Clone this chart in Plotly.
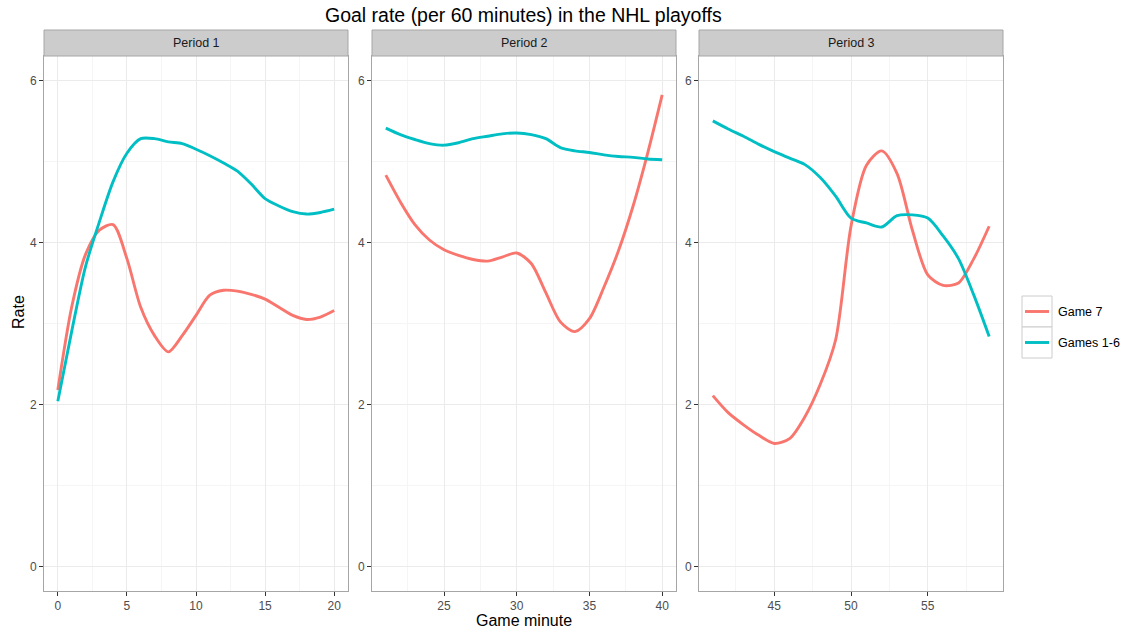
import plotly.graph_objects as go

# ---------------- data ----------------
periods = ["Period 1", "Period 2", "Period 3"]
series_names = ["Game 7", "Games 1-6"]

minutes_p1 = [0, 1, 2, 3, 4, 5, 6, 7, 8, 9, 10, 11, 12, 13, 14, 15, 16, 17, 18, 19, 20]
game7_p1 = [2.18, 3.20, 3.85, 4.15, 4.22, 3.80, 3.20, 2.85, 2.65, 2.85, 3.10, 3.35, 3.41, 3.40, 3.36, 3.30, 3.20, 3.10, 3.05, 3.08, 3.16]
games16_p1 = [2.04, 2.90, 3.70, 4.25, 4.75, 5.10, 5.28, 5.28, 5.24, 5.22, 5.15, 5.07, 4.98, 4.88, 4.72, 4.54, 4.45, 4.38, 4.35, 4.37, 4.41]

minutes_p2 = [21, 22, 23, 24, 25, 26, 27, 28, 29, 30, 31, 32, 33, 34, 35, 36, 37, 38, 39, 40]
game7_p2 = [4.83, 4.50, 4.22, 4.03, 3.91, 3.84, 3.79, 3.77, 3.82, 3.87, 3.74, 3.38, 3.02, 2.90, 3.06, 3.45, 3.90, 4.45, 5.10, 5.82]
games16_p2 = [5.41, 5.33, 5.27, 5.22, 5.20, 5.23, 5.28, 5.31, 5.34, 5.35, 5.33, 5.28, 5.17, 5.13, 5.11, 5.08, 5.06, 5.05, 5.03, 5.02]

minutes_p3 = [41, 42, 43, 44, 45, 46, 47, 48, 49, 50, 51, 52, 53, 54, 55, 56, 57, 58, 59]
game7_p3 = [2.11, 1.90, 1.75, 1.62, 1.52, 1.58, 1.85, 2.25, 2.80, 4.20, 4.95, 5.13, 4.85, 4.15, 3.60, 3.47, 3.50, 3.80, 4.20]
games16_p3 = [5.50, 5.40, 5.31, 5.21, 5.12, 5.04, 4.96, 4.80, 4.57, 4.30, 4.24, 4.19, 4.33, 4.34, 4.30, 4.08, 3.80, 3.35, 2.84]

y_ticks = [0, 2, 4, 6]
x_ticks_p1 = [0, 5, 10, 15, 20]
x_ticks_p2 = [25, 30, 35, 40]
x_ticks_p3 = [45, 50, 55]

colors = {"Game 7": "#F8766D", "Games 1-6": "#00BFC4"}

# ---------------- figure ----------------
W, H = 1140, 632
ML, MT = 44, 56
MB = H - 591
MR = W - 1003
pw = W - ML - MR
ph = H - MT - MB

def fx(px):
    # page pixel -> paper fraction
    return (px - ML) / pw

def fy(py):
    return (H - MB - py) / ph

domains = [[fx(44), fx(348)], [fx(372), fx(676)], [fx(699), fx(1003)]]
xranges = [[-1, 21], [20.05, 40.95], [40.1, 59.9]]
xticks = [x_ticks_p1, x_ticks_p2, x_ticks_p3]
minor_tick0 = [2.5, 22.5, 42.5]

data_sets = [
    (minutes_p1, game7_p1, games16_p1),
    (minutes_p2, game7_p2, games16_p2),
    (minutes_p3, game7_p3, games16_p3),
]

fig = go.Figure()
FONT = "Liberation Sans, Arial, Helvetica, sans-serif"
LW = 2.9
for i, (mins, g7, g16) in enumerate(data_sets):
    xa = "x" if i == 0 else f"x{i+1}"
    ya = "y" if i == 0 else f"y{i+1}"
    for name, vals in ((series_names[0], g7), (series_names[1], g16)):
        fig.add_trace(go.Scatter(
            x=mins, y=vals, mode="lines", name=name,
            line=dict(color=colors[name], width=LW, shape="spline", smoothing=0.8),
            xaxis=xa, yaxis=ya, showlegend=False, legendgroup=name,
        ))

axis_common = dict(
    showgrid=True, gridcolor="#EBEBEB", gridwidth=1,
    zeroline=False, showline=True, linecolor="#A6A6A6", linewidth=1, mirror=True,
    ticks="outside", ticklen=4, tickcolor="#333333", tickwidth=1,
    tickfont=dict(family=FONT, size=12, color="#4D4D4D"),
)

layout = dict(
    width=W, height=H,
    margin=dict(l=ML, r=MR, t=MT, b=MB),
    paper_bgcolor="white", plot_bgcolor="white",
    showlegend=False,
    font=dict(family=FONT),
)
for i in range(3):
    xk = "xaxis" if i == 0 else f"xaxis{i+1}"
    yk = "yaxis" if i == 0 else f"yaxis{i+1}"
    layout[xk] = dict(axis_common, domain=domains[i], range=xranges[i],
                      tickmode="array", tickvals=xticks[i],
                      minor=dict(showgrid=True, gridcolor="#F5F5F5", tick0=minor_tick0[i], dtick=5, ticks=""),
                      anchor="y" if i == 0 else f"y{i+1}")
    layout[yk] = dict(axis_common, domain=[0, 1], range=[-0.3, 6.3],
                      tickmode="array", tickvals=y_ticks,
                      minor=dict(showgrid=True, gridcolor="#F5F5F5", tick0=1, dtick=2, ticks=""),
                      anchor="x" if i == 0 else f"x{i+1}")
fig.update_layout(**layout)

shapes = []
annotations = []
# strips
for i, p in enumerate(periods):
    x0, x1 = domains[i]
    shapes.append(dict(type="rect", xref="paper", yref="paper", x0=x0, x1=x1,
                       y0=fy(56), y1=fy(30), fillcolor="#CCCCCC",
                       line=dict(color="#A6A6A6", width=1), layer="above"))
    annotations.append(dict(text=p, xref="paper", yref="paper", x=(x0 + x1) / 2, y=fy(43),
                            showarrow=False, xanchor="center", yanchor="middle",
                            font=dict(family=FONT, size=12.5, color="#1A1A1A")))

# title
annotations.append(dict(text="Goal rate (per 60 minutes) in the NHL playoffs", xref="paper", yref="paper",
                        x=fx(523.5), y=fy(15), showarrow=False, xanchor="center", yanchor="middle",
                        font=dict(family=FONT, size=19.5, color="black")))
# axis titles
annotations.append(dict(text="Game minute", xref="paper", yref="paper", x=fx(523.5), y=fy(620),
                        showarrow=False, xanchor="center", yanchor="middle",
                        font=dict(family=FONT, size=16, color="black")))
annotations.append(dict(text="Rate", xref="paper", yref="paper", x=fx(18), y=fy(312), textangle=-90,
                        showarrow=False, xanchor="center", yanchor="middle",
                        font=dict(family=FONT, size=16, color="black")))

# legend (drawn manually to mimic boxed keys)
key_x0, key_x1 = 1022, 1052
key_rows = [(296, 327), (327, 358)]
for (y0, y1), name in zip(key_rows, series_names):
    shapes.append(dict(type="rect", xref="paper", yref="paper", x0=fx(key_x0), x1=fx(key_x1),
                       y0=fy(y1), y1=fy(y0), fillcolor="white", line=dict(color="#CCCCCC", width=1)))
    ym = fy((y0 + y1) / 2)
    shapes.append(dict(type="line", xref="paper", yref="paper", x0=fx(key_x0 + 3), x1=fx(key_x1 - 3),
                       y0=ym, y1=ym, line=dict(color=colors[name], width=LW)))
    annotations.append(dict(text=name, xref="paper", yref="paper", x=fx(1056), y=ym,
                            showarrow=False, xanchor="left", yanchor="middle",
                            font=dict(family=FONT, size=12.5, color="black")))

fig.update_layout(shapes=shapes, annotations=annotations)
fig.write_html("out.html",
               config={"displayModeBar": False},
               post_script="document.body.style.margin='0';document.body.style.overflow='hidden';")
